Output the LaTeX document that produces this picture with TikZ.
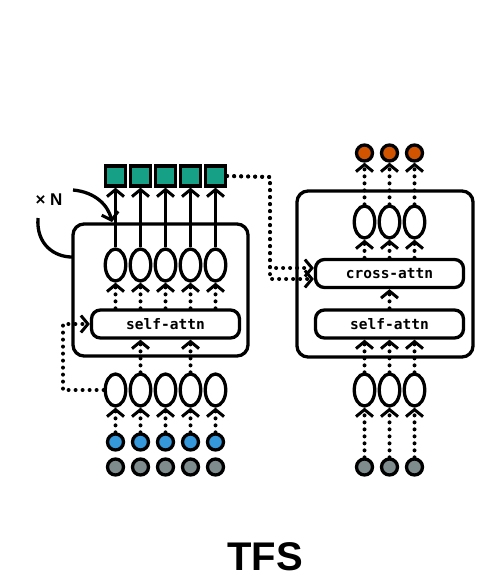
\documentclass[tikz,border=0pt]{standalone}
\usepackage{fontspec}
\setmainfont{Liberation Sans}
\newfontfamily\codefont{DejaVu Sans Mono}
\usetikzlibrary{shapes.geometric,arrows.meta,calc}
\definecolor{tgreen}{HTML}{16A085}
\definecolor{tblue}{HTML}{3498DB}
\definecolor{tgray}{HTML}{7F8C8D}
\definecolor{torange}{HTML}{D35400}
\begin{document}
\begin{tikzpicture}[x=1pt,y=-1pt,
  tok/.style={ellipse, draw, line width=3.3pt, minimum width=20.5pt, minimum height=32pt, inner sep=0pt},
  attn/.style={draw, rounded corners=9pt, line width=3.3pt, minimum width=148pt, minimum height=28pt, inner sep=0pt, font=\codefont\bfseries\fontsize{14.5}{14.5}\selectfont},
  block/.style={draw, rounded corners=11pt, line width=3.3pt, inner sep=0pt},
  sq/.style={draw, line width=3.3pt, minimum size=20pt, inner sep=0pt, fill=tgreen},
  ball/.style={circle, draw, line width=3.3pt, minimum size=16pt, inner sep=0pt},
  dotl/.style={line width=4pt, line cap=round, dash pattern=on 0pt off 7pt},
  barb/.style={-{Straight Barb[length=7pt,width=17pt,line width=3pt]}},
  solid arrow/.style={line width=3.3pt, -{Straight Barb[length=7pt,width=17pt,line width=3pt]}}
]
\useasboundingbox (0,0) rectangle (499,582);

% ---------- left block ----------
\node[block, minimum width=175pt, minimum height=132pt] (B1) at (160.5,290) {};
\node[attn] (sa) at (165.5,324) {self-attn};
\foreach \i/\x in {1/115.5,2/140.5,3/165.5,4/190.5,5/215.5}{
  \node[sq] (g\i) at (\x,176) {};
  \node[tok] (u\i) at (\x,265) {};
  \node[tok] (l\i) at (\x,390) {};
  \node[ball, fill=tblue] (b\i) at (\x,442) {};
  \node[ball, fill=tgray] (c\i) at (\x,467) {};
  \draw[solid arrow] (u\i) -- (g\i);
  \draw[dotl,barb] (sa.north -| u\i) -- (u\i.south);
  \draw[dotl,barb] (b\i) -- (l\i);
}
\draw[dotl,barb] (l2) -- (sa.south -| l2);
\draw[dotl,barb] (l4) -- (sa.south -| l4);
\coordinate (lp) at (63,390);
\draw[dotl,barb] (l1.west) -- (lp) |- (sa.west);

% x N loop
\node[font=\bfseries\fontsize{17}{17}\selectfont] (xn) at (49,200) {× N};
\coordinate (ca1) at (73,190);
\coordinate (ca2) at (112,222);
\draw[solid arrow] (ca1) .. controls (95,192) and (108,205) .. (ca2);
\coordinate (cb1) at (38,218);
\coordinate (cb2) at (72,257);
\draw[line width=3.3pt] (cb1) .. controls (36,245) and (55,257) .. (cb2);

% ---------- right block ----------
\node[block, minimum width=176pt, minimum height=166pt] (B2) at (385,274) {};
\node[attn] (ca) at (389.5,273.5) {cross-attn};
\node[attn] (sr) at (389.5,324) {self-attn};
\foreach \i/\x in {1/364.5,2/389.5,3/414.5}{
  \node[ball, fill=torange] (o\i) at (\x,153) {};
  \node[tok] (ru\i) at (\x,222) {};
  \node[tok] (rl\i) at (\x,390) {};
  \node[ball, fill=tgray] (rc\i) at (\x,467) {};
  \draw[dotl,barb] (ru\i) -- (o\i);
  \draw[dotl,barb] (ca.north -| ru\i) -- (ru\i.south);
  \draw[dotl,barb] (rl\i) -- (sr.south -| rl\i);
  \draw[dotl,barb] (rc\i) -- (rl\i);
}
\draw[dotl,barb] (sr.north) -- (ca.south);

% connection from encoder outputs to cross-attn
\coordinate (jx) at (270,177);
\draw[dotl,barb] (g5.east) -- (jx) |- ($(ca.west)+(0,-5.5)$);
\draw[dotl,barb] (g5.east) -- (jx) |- ($(ca.west)+(0,5.5)$);

% title
\node[font=\bfseries\fontsize{40}{40}\selectfont] (title) at (265,557) {TFS};
\end{tikzpicture}
\end{document}
